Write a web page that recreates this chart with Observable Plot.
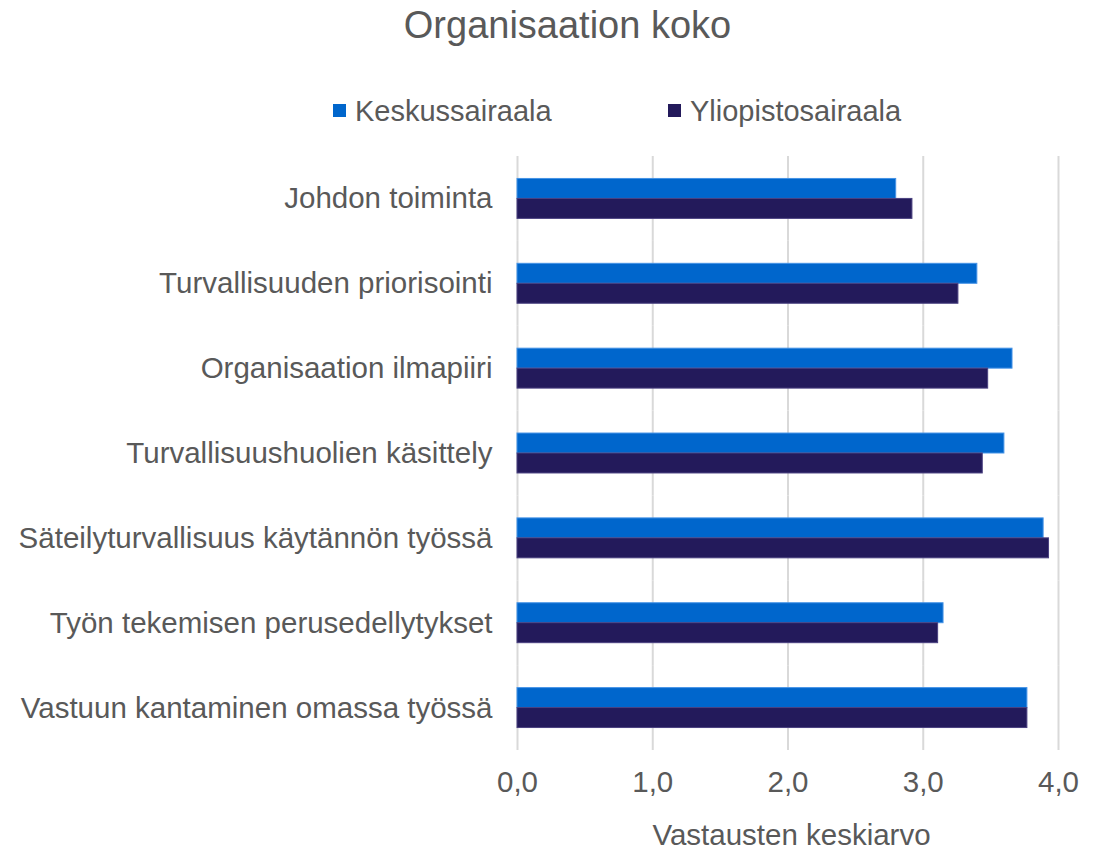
<!DOCTYPE html>
<html>
<head>
<meta charset="utf-8">
<script src="https://cdn.jsdelivr.net/npm/d3@7"></script>
<script src="https://cdn.jsdelivr.net/npm/@observablehq/plot@0.6"></script>
<style>
  html, body { margin: 0; padding: 0; background: #ffffff; }
  body { width: 1107px; height: 850px; font-family: "Liberation Sans", Arial, sans-serif; color: #595959; overflow: hidden; }
  #title { height: 50px; line-height: 50px; font-size: 38px; text-align: center; padding-left: 28px; box-sizing: border-box; width: 1107px; }
  #legend { position: relative; height: 95px; width: 1107px; }
  .item { position: absolute; top: 46px; height: 30px; line-height: 30px; font-size: 29px; white-space: nowrap; }
  .swatch { position: absolute; left: 0; top: 8px; width: 13px; height: 13px; }
  .item span.label { position: absolute; left: 22px; top: 0; }
  #caption { margin-left: 521px; width: 541px; text-align: center; font-size: 29.5px; height: 40px; line-height: 40px; margin-top: 5px; }
</style>
</head>
<body>
<div id="title">Organisaation koko</div>
<div id="legend"></div>
<div id="chart"></div>
<div id="caption">Vastausten keskiarvo</div>
<script>
const categories = [
  "Johdon toiminta",
  "Turvallisuuden priorisointi",
  "Organisaation ilmapiiri",
  "Turvallisuushuolien käsittely",
  "Säteilyturvallisuus käytännön työssä",
  "Työn tekemisen perusedellytykset",
  "Vastuun kantaminen omassa työssä"
];
const seriesNames = ["Keskussairaala", "Yliopistosairaala"];
const keskussairaala = [2.80, 3.40, 3.66, 3.60, 3.89, 3.15, 3.77];
const yliopistosairaala = [2.92, 3.26, 3.48, 3.44, 3.93, 3.11, 3.77];
const xTicks = [0, 1, 2, 3, 4];
const fillColors = ["#0066CC", "#231A5B"];
const edgeColors = ["#4593e6", "#4a4180"];

const data = categories.flatMap((c, i) => [
  {category: c, series: seriesNames[0], value: keskussairaala[i]},
  {category: c, series: seriesNames[1], value: yliopistosairaala[i]}
]);

// Legend
const legend = document.getElementById("legend");
const legendLeft = [333, 668];
seriesNames.forEach((name, i) => {
  const item = document.createElement("div");
  item.className = "item";
  item.style.left = legendLeft[i] + "px";
  const sw = document.createElement("div");
  sw.className = "swatch";
  sw.style.background = fillColors[i];
  const lab = document.createElement("span");
  lab.className = "label";
  lab.textContent = name;
  item.appendChild(sw);
  item.appendChild(lab);
  legend.appendChild(item);
});

const chart = Plot.plot({
  width: 1107,
  height: 665,
  marginTop: 11,
  marginBottom: 60,
  marginLeft: 517,
  marginRight: 49,
  style: {fontFamily: "'Liberation Sans', Arial, sans-serif", fontSize: "29.5px", color: "#595959", background: "#ffffff", overflow: "visible"},
  x: {domain: [0, 4], ticks: xTicks, tickFormat: d => d.toFixed(1).replace(".", ","), tickSize: 0, tickPadding: 21, label: null},
  y: {domain: seriesNames, axis: null, paddingInner: 0, paddingOuter: 1.125, round: false},
  fy: {domain: categories, padding: 0, round: false, label: null, tickSize: 0, tickPadding: 25, axis: "left"},
  color: {domain: seriesNames, range: fillColors},
  facet: {data, y: "category"},
  marks: [
    Plot.ruleX(xTicks, {stroke: "#d9d9d9", strokeWidth: 2}),
    Plot.barX(data, {
      x: "value",
      y: "series",
      fill: "series",
      stroke: d => edgeColors[seriesNames.indexOf(d.series)],
      strokeWidth: 1
    })
  ]
});
document.getElementById("chart").appendChild(chart);
</script>
</body>
</html>
